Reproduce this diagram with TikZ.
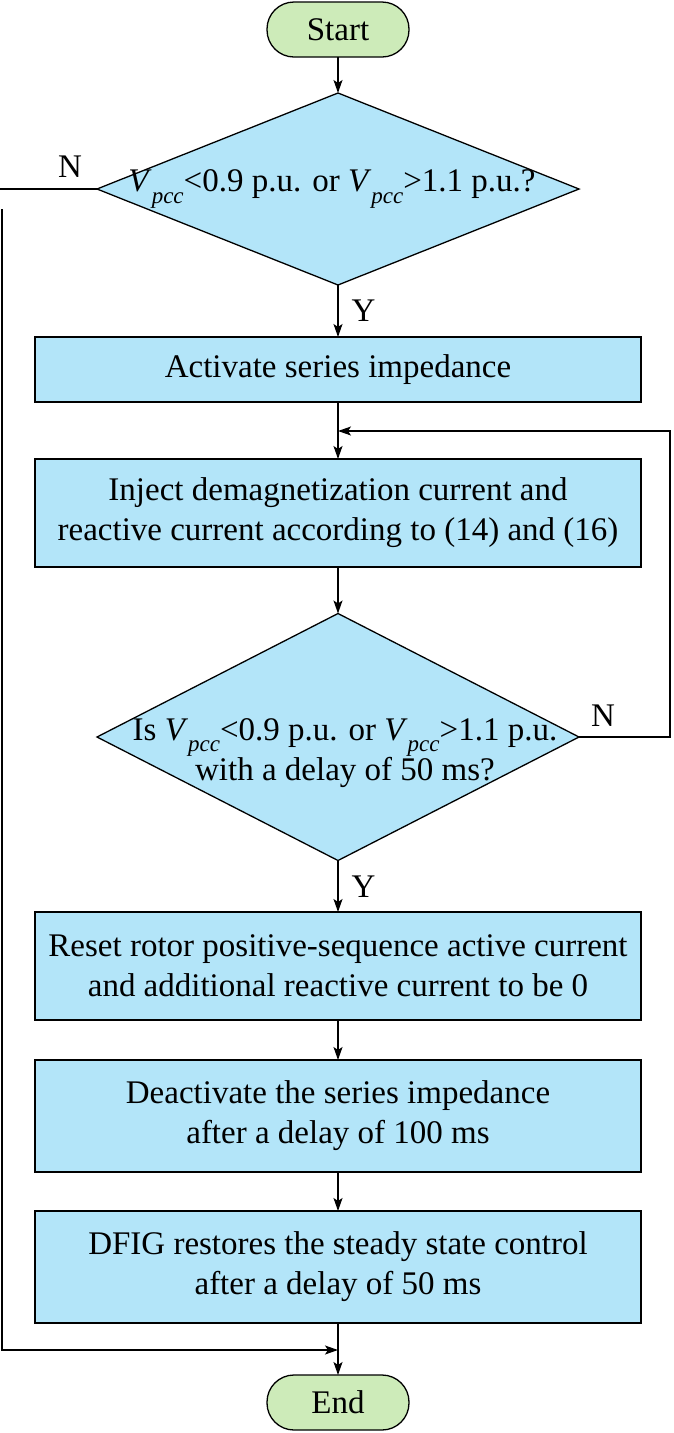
\documentclass[tikz,border=0pt]{standalone}
\usepackage{fontspec}
\setmainfont{Liberation Serif}
\usetikzlibrary{shapes.geometric,arrows.meta}
\definecolor{boxblue}{RGB}{179,229,249}
\definecolor{termgreen}{RGB}{205,235,185}
\newcommand{\Vp}{\textit{V}\raisebox{-0.34em}{\fontsize{23}{23}\selectfont\textit{pcc}}}
\tikzset{
  every node/.style={font=\fontsize{33}{40}\selectfont},
  line/.style={line width=1.3pt},
  arr/.style={line width=1.3pt,-{Stealth[length=13pt,width=9pt,inset=3pt]}},
  procbox/.style={draw,line width=1.3pt,fill=boxblue,minimum width=606pt,inner sep=0pt,outer sep=0pt,align=center},
  termbox/.style={draw,line width=1.3pt,fill=termgreen,rounded corners=27pt,minimum width=142pt,minimum height=55pt,inner sep=0pt,outer sep=0pt},
  decbox/.style={draw,line width=1.3pt,fill=boxblue,diamond,minimum width=482pt,inner sep=0pt,outer sep=0pt},
  lab/.style={inner sep=0pt}
}
\begin{document}
\begin{tikzpicture}[x=1pt,y=1pt]
\useasboundingbox (0,0) rectangle (673,-1433);
\node[termbox] (start) at (338,-29.5) {Start};
\node[decbox,minimum height=192pt] (d1) at (338,-189) {};
\node[lab] at (332,-189) {\Vp<0.9 p.u. or \Vp>1.1 p.u.?};
\node[procbox,minimum height=65pt] (b1) at (338,-369.5) {Activate series impedance};
\node[procbox,minimum height=108pt] (b2) at (338,-513) {Inject demagnetization current and\\reactive current according to (14) and (16)};
\node[decbox,minimum height=247pt] (d2) at (338,-737) {};
\node[lab,align=center] at (345,-753) {Is \Vp<0.9 p.u. or \Vp>1.1 p.u.\\with a delay of 50 ms?};
\node[procbox,minimum height=108pt] (b3) at (338,-966) {Reset rotor positive-sequence active current\\and additional reactive current to be 0};
\node[procbox,minimum height=112pt] (b4) at (338,-1116) {Deactivate the series impedance\\after a delay of 100 ms};
\node[procbox,minimum height=112pt] (b5) at (338,-1267) {DFIG restores the steady state control\\after a delay of 50 ms};
\node[termbox] (end) at (338,-1402.5) {End};
\coordinate (nl) at (0,-189);
\coordinate (lt) at (2,-209);
\coordinate (lb) at (2,-1350);
\coordinate (mj) at (338,-1350);
\coordinate (rj) at (338,-431);
\coordinate (rt) at (670,-431);
\coordinate (rb) at (670,-737);
\draw[arr] (start) -- (d1);
\draw[arr] (d1) -- (b1) node[lab,pos=0.5,right=13pt] {Y};
\draw[arr] (b1) -- (b2);
\draw[arr] (b2) -- (d2);
\draw[arr] (d2) -- (b3) node[lab,pos=0.5,right=13pt] {Y};
\draw[arr] (b3) -- (b4);
\draw[arr] (b4) -- (b5);
\draw[arr] (b5) -- (end);
\draw[line] (d1.west) -- (nl);
\node[lab] at (70,-167) {N};
\draw[arr] (lt) -- (lb) -- (mj);
\draw[arr] (d2.east) -- (rb) -- (rt) -- (rj);
\node[lab] at (603,-716) {N};
\end{tikzpicture}
\end{document}
